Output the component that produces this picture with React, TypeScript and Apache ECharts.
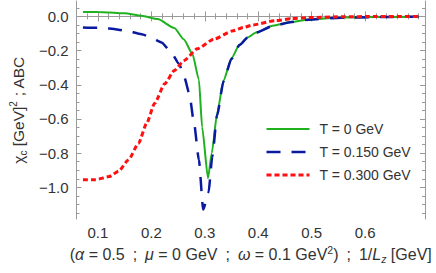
import React, { useEffect, useRef } from "react";
import * as echarts from "echarts";

const xGreen = [0.072, 0.1, 0.121, 0.15, 0.182, 0.212, 0.243, 0.261, 0.277, 0.289, 0.295, 0.306, 0.313, 0.323, 0.335, 0.35, 0.365, 0.38, 0.396, 0.427, 0.463, 0.494, 0.555, 0.62, 0.7];
const yGreen = [0.026, 0.025, 0.023, 0.018, 0.004, -0.016, -0.068, -0.135, -0.22, -0.37, -0.647, -0.947, -0.8, -0.57, -0.375, -0.245, -0.165, -0.124, -0.094, -0.055, -0.032, -0.018, -0.007, -0.004, -0.002];

const xBlue = [0.072, 0.1, 0.121, 0.15, 0.182, 0.2, 0.219, 0.237, 0.252, 0.262, 0.271, 0.28, 0.289, 0.297, 0.307, 0.314, 0.323, 0.335, 0.35, 0.365, 0.38, 0.396, 0.427, 0.463, 0.494, 0.555, 0.62, 0.7];
const yBlue = [-0.065, -0.067, -0.071, -0.082, -0.104, -0.125, -0.152, -0.21, -0.278, -0.36, -0.452, -0.627, -0.84, -1.13, -1.03, -0.82, -0.58, -0.38, -0.248, -0.167, -0.125, -0.095, -0.056, -0.033, -0.019, -0.008, -0.004, -0.002];

const xRed = [0.072, 0.096, 0.121, 0.139, 0.157, 0.176, 0.191, 0.206, 0.225, 0.243, 0.261, 0.286, 0.317, 0.353, 0.372, 0.39, 0.432, 0.463, 0.494, 0.555, 0.62, 0.7];
const yRed = [-0.956, -0.955, -0.937, -0.905, -0.84, -0.743, -0.627, -0.51, -0.394, -0.317, -0.259, -0.19, -0.133, -0.084, -0.065, -0.05, -0.025, -0.013, -0.007, -0.002, -0.001, 0];

const seriesNames = ["T = 0 GeV", "T = 0.150 GeV", "T = 0.300 GeV"];

const xMajor = [0.1, 0.2, 0.3, 0.4, 0.5, 0.6];
const xMinor = [0.08, 0.12, 0.14, 0.16, 0.18, 0.22, 0.24, 0.26, 0.28, 0.32, 0.34, 0.36, 0.38, 0.42, 0.44, 0.46, 0.48, 0.52, 0.54, 0.56, 0.58, 0.62, 0.64, 0.66, 0.68, 0.7];
const yMajor = [0, -0.2, -0.4, -0.6, -0.8, -1.0];
const yMinor = [0.05, -0.05, -0.1, -0.15, -0.25, -0.3, -0.35, -0.45, -0.5, -0.55, -0.65, -0.7, -0.75, -0.85, -0.9, -0.95, -1.05, -1.1, -1.15];

const X_MIN = 0.06;
const X_MAX = 0.712;
const Y_MIN = -1.185;
const Y_MAX = 0.09;

const FONT = "'Liberation Sans', Arial, sans-serif";
const FRAME = "#9a9a9a";
const LABEL = "#333333";

function zip(xs: number[], ys: number[]) {
  return xs.map((x, i) => [x, ys[i]]);
}

export default function App() {
  const ref = useRef<HTMLDivElement>(null);
  useEffect(() => {
    const chart = echarts.init(ref.current!, null, { renderer: "svg" });

    const mkRich = (FS: number, SS: number, LH: number) => ({
      b: { fontSize: FS, fontFamily: FONT, color: LABEL, lineHeight: LH, verticalAlign: "middle" },
      i: { fontSize: FS, fontFamily: FONT, color: LABEL, fontStyle: "italic", lineHeight: LH, verticalAlign: "middle" },
      sub: { fontSize: SS, fontFamily: FONT, color: LABEL, lineHeight: LH, verticalAlign: "bottom" },
      isub: { fontSize: SS, fontFamily: FONT, color: LABEL, fontStyle: "italic", lineHeight: LH, verticalAlign: "bottom" },
      sup: { fontSize: SS, fontFamily: FONT, color: LABEL, lineHeight: LH, verticalAlign: "top" },
    });

    const mkX = (pos: string, vals: number[], len: number, main: boolean) => ({
      type: "value",
      position: pos,
      min: X_MIN,
      max: X_MAX,
      splitLine: { show: false },
      axisLine: { show: main, lineStyle: { color: FRAME, width: 1 } },
      axisTick: { show: true, inside: true, length: len, customValues: vals, lineStyle: { color: FRAME } },
      axisLabel: main && pos === "bottom"
        ? { show: true, customValues: xMajor, formatter: (v: number) => v.toFixed(1), color: LABEL, fontSize: 15, fontFamily: FONT, margin: 6 }
        : { show: false },
    });

    const mkY = (pos: string, vals: number[], len: number, main: boolean) => ({
      type: "value",
      position: pos,
      min: Y_MIN,
      max: Y_MAX,
      splitLine: { show: false },
      axisLine: { show: main, lineStyle: { color: FRAME, width: 1 } },
      axisTick: { show: true, inside: true, length: len, customValues: vals, lineStyle: { color: FRAME } },
      axisLabel: main && pos === "left"
        ? {
            show: true,
            customValues: yMajor,
            formatter: (v: number) => (Math.abs(v) < 1e-9 ? "0.0" : (v < 0 ? "\u2212" : "") + Math.abs(v).toFixed(1)),
            color: LABEL,
            fontSize: 15,
            fontFamily: FONT,
            margin: 8,
          }
        : { show: false },
    });

    const xAxes: any[] = [
      mkX("bottom", xMajor, 5, true),
      mkX("bottom", xMinor, 3, false),
      mkX("top", xMajor, 5, true),
      mkX("top", xMinor, 3, false),
    ];
    const E = "\u2002";
    xAxes[0].name =
      "{b|(}{i|\u03b1}{b| = 0.5" + E + ";" + E + "}{i|\u03bc}{b| = 0 GeV" + E + ";" + E + "}{i|\u03c9}{b| = 0.1 GeV}{sup|2}{b|)" + E + ";" + E + "1/}{i|L}{isub|z}{b| [GeV]}";
    xAxes[0].nameLocation = "middle";
    xAxes[0].nameGap = 24;
    xAxes[0].nameTextStyle = { fontSize: 16, fontFamily: FONT, color: LABEL, rich: mkRich(16, 10.5, 20) };

    const yAxes: any[] = [
      mkY("left", yMajor, 5, true),
      mkY("left", yMinor, 3, false),
      mkY("right", yMajor, 5, true),
      mkY("right", yMinor, 3, false),
    ];
    yAxes[0].name = "{b|\u03c7}{sub|c}{b| [GeV]}{sup|2}{b| ; ABC}";
    yAxes[0].nameLocation = "middle";
    yAxes[0].nameRotate = 90;
    yAxes[0].nameGap = 45;
    yAxes[0].nameTextStyle = { fontSize: 15.5, fontFamily: FONT, color: LABEL, rich: mkRich(15.5, 10, 20) };

    const common = {
      type: "line",
      showSymbol: false,
      symbol: "none",
      smooth: 0.2,
      smoothMonotone: "x",
      xAxisIndex: 0,
      yAxisIndex: 0,
      clip: true,
    };

    chart.setOption({
      animation: false,
      backgroundColor: "#ffffff",
      grid: { left: 71, right: 11, top: 1, bottom: 54, containLabel: false },
      xAxis: xAxes,
      yAxis: yAxes,
      legend: {
        show: true,
        orient: "vertical",
        left: 265,
        top: 122,
        padding: 0,
        itemWidth: 43,
        itemHeight: 14,
        itemGap: 9,
        itemStyle: { opacity: 0 },
        lineStyle: { type: "inherit", width: "inherit", color: "inherit" },
        textStyle: { color: LABEL, fontSize: 14, lineHeight: 14, fontFamily: FONT, padding: [0, 0, 0, 5] },
        data: seriesNames,
      },
      series: [
        {
          ...common,
          name: seriesNames[0],
          data: zip(xGreen, yGreen),
          lineStyle: { color: "#1fb11f", width: 2, type: "solid" },
          itemStyle: { color: "#1fb11f" },
        },
        {
          ...common,
          name: seriesNames[1],
          data: zip(xBlue, yBlue),
          lineStyle: { color: "#0a1aa0", width: 2.5, type: [14, 11] },
          itemStyle: { color: "#0a1aa0" },
        },
        {
          ...common,
          name: seriesNames[2],
          data: zip(xRed, yRed),
          lineStyle: { color: "#ff1010", width: 3, type: [5, 3] },
          itemStyle: { color: "#ff1010" },
        },
      ],
    });
    return () => chart.dispose();
  }, []);
  return <div ref={ref} style={{ position: "fixed", left: 0, top: 0, width: 436, height: 273 }} />;
}
